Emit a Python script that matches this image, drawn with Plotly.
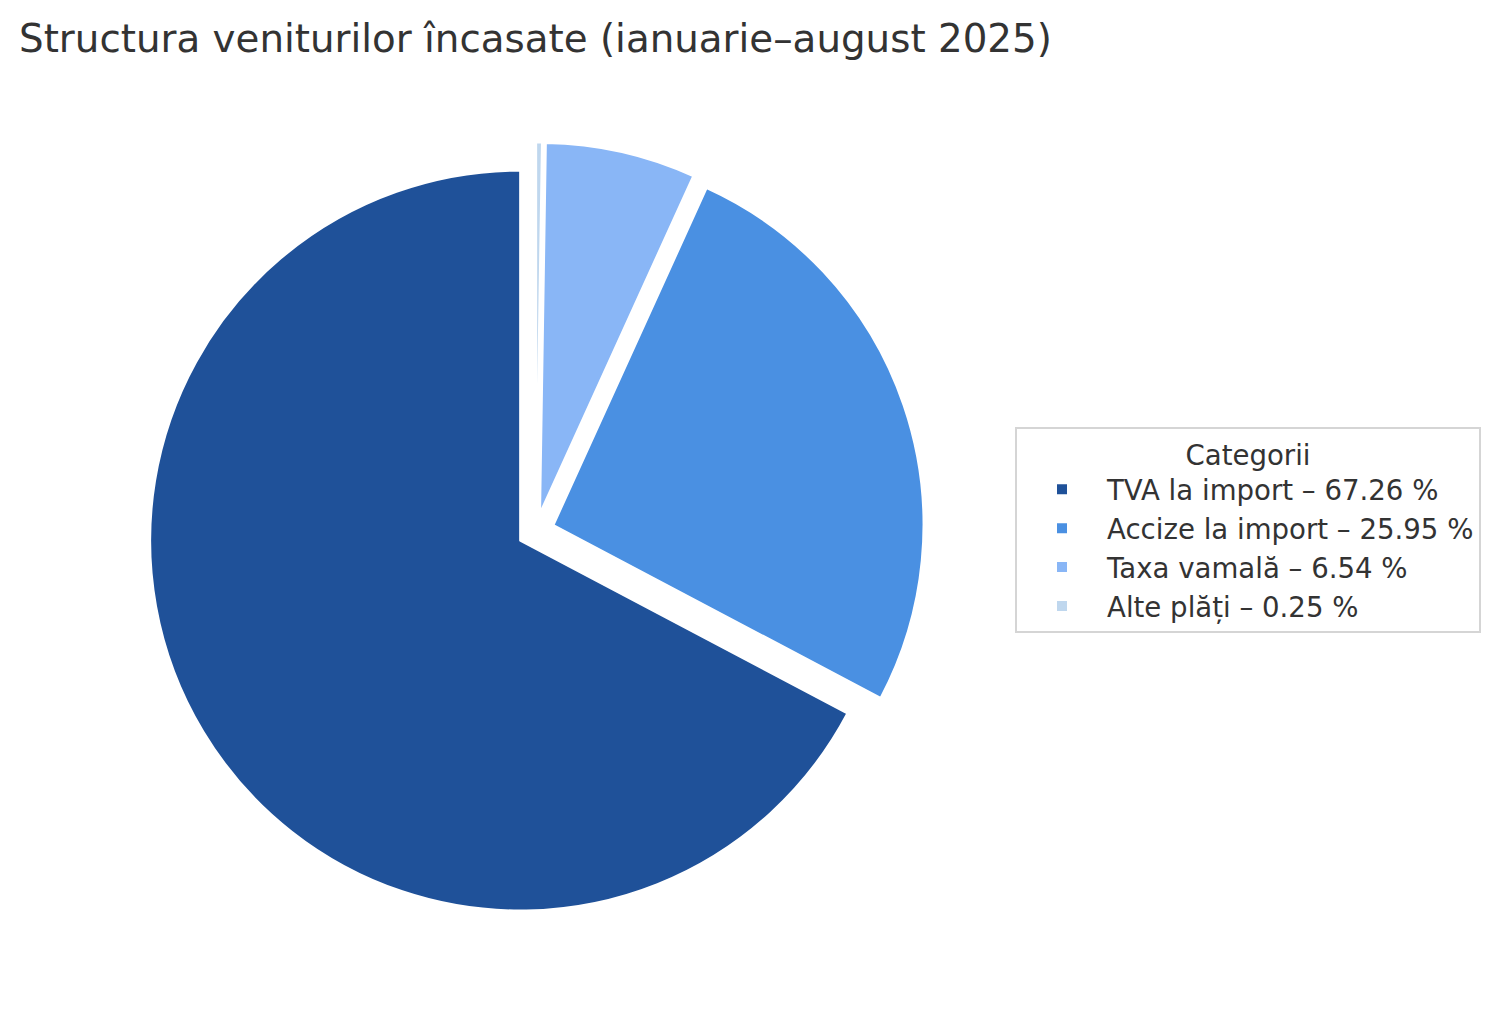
import plotly.graph_objects as go

categories = ["TVA la import", "Accize la import", "Taxa vamală", "Alte plăți"]
shares = [67.26, 25.95, 6.54, 0.25]
pulls = [0.05, 0.05, 0.05, 0.05]
colors = ["#1F5199", "#4A90E2", "#89B6F6", "#BFD7EE"]

labels = [f"{c} – {v:.2f} %" for c, v in zip(categories, shares)]

W, H = 1501, 1012
cx, cy, r = 536, 531, 370
half = r * (1 + max(pulls))

# first slice should start at 12 o'clock and run counterclockwise
first_angle = 360 * shares[0] / sum(shares)

fig = go.Figure(go.Pie(
    labels=labels,
    values=shares,
    sort=False,
    direction="counterclockwise",
    rotation=360 - first_angle,
    pull=pulls,
    marker=dict(colors=colors, line=dict(color="white", width=2)),
    textinfo="none",
    hoverinfo="label",
    domain=dict(x=[(cx - half) / W, (cx + half) / W],
                y=[1 - (cy + half) / H, 1 - (cy - half) / H]),
))

fig.update_layout(
    width=W, height=H,
    margin=dict(l=0, r=0, t=0, b=0),
    paper_bgcolor="white",
    font=dict(family="DejaVu Sans", color="#333333"),
    title=dict(text="Structura veniturilor încasate (ianuarie–august 2025)",
               x=19 / W, xref="paper", xanchor="left",
               y=1 - 38 / H, yref="container", yanchor="middle",
               font=dict(size=38.8, color="#333333", family="DejaVu Sans")),
    legend=dict(
        title=dict(text="Categorii", side="top center",
                   font=dict(size=27.6, color="#333333")),
        font=dict(size=27.6, color="#333333"),
        x=1481 / W, xanchor="right",
        y=1 - 530 / H, yanchor="middle",
        bordercolor="#D5D5D5", borderwidth=2,
        bgcolor="white",
        itemwidth=80,
    ),
    showlegend=True,
)

fig.write_html("out.html",
               config={"displayModeBar": False},
               post_script="document.body.style.margin='0';document.body.style.overflow='hidden';")
